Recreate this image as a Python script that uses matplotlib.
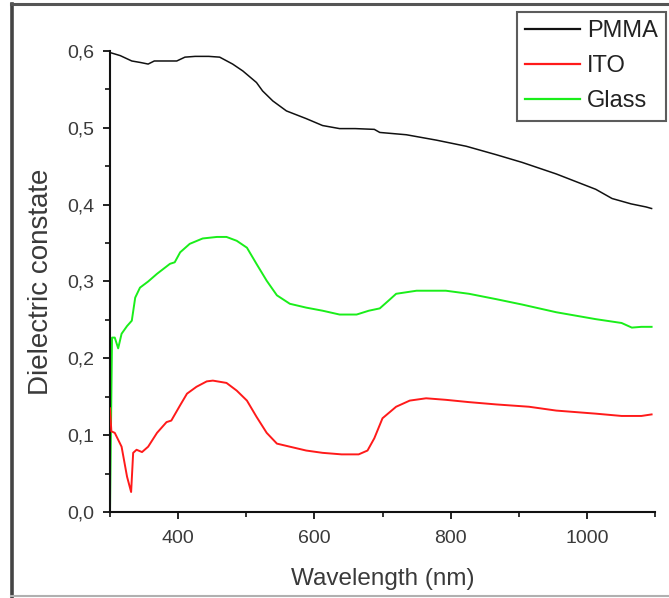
import matplotlib
matplotlib.use("Agg")
import matplotlib.pyplot as plt
from matplotlib.ticker import MultipleLocator, FuncFormatter
from matplotlib.lines import Line2D

plt.rcParams['font.family'] = ['Liberation Sans', 'DejaVu Sans']

# Dielectric constant spectra
pmma_wl = [300, 315, 332, 345, 356, 365, 380, 398, 410, 425, 445, 461, 480, 495,
           515, 524, 539, 559, 588, 612, 637, 660, 688, 696, 735, 779, 823, 867,
           905, 955, 1013, 1037, 1065, 1087, 1095]
pmma_eps = [0.598, 0.594, 0.587, 0.585, 0.583, 0.587, 0.587, 0.587, 0.592, 0.593,
            0.593, 0.592, 0.583, 0.574, 0.559, 0.548, 0.535, 0.522, 0.512, 0.503,
            0.499, 0.499, 0.498, 0.494, 0.491, 0.484, 0.476, 0.465, 0.455, 0.440,
            0.420, 0.408, 0.401, 0.397, 0.395]

ito_wl = [300, 302, 307, 317, 325, 331, 334, 339, 347, 356, 369, 383, 390, 403,
          413, 427, 442, 451, 471, 486, 501, 515, 530, 545, 564, 588, 612, 640,
          665, 678, 688, 700, 720, 740, 764, 793, 827, 867, 915, 955, 1013, 1051,
          1080, 1095]
ito_eps = [0.135, 0.105, 0.103, 0.085, 0.046, 0.026, 0.077, 0.081, 0.078, 0.085,
           0.103, 0.117, 0.119, 0.139, 0.154, 0.163, 0.170, 0.171, 0.168, 0.158,
           0.145, 0.124, 0.103, 0.089, 0.085, 0.080, 0.077, 0.075, 0.075, 0.080,
           0.096, 0.122, 0.137, 0.145, 0.148, 0.146, 0.143, 0.140, 0.137, 0.132,
           0.128, 0.125, 0.125, 0.127]

glass_wl = [300, 303, 307, 312, 317, 325, 332, 337, 344, 356, 369, 388, 395, 403,
            417, 436, 457, 471, 486, 501, 515, 530, 545, 564, 588, 612, 637, 662,
            680, 696, 710, 720, 750, 793, 827, 867, 905, 955, 1013, 1051, 1066,
            1080, 1095]
glass_eps = [0.0, 0.227, 0.227, 0.213, 0.232, 0.242, 0.249, 0.279, 0.292, 0.300,
             0.310, 0.323, 0.325, 0.338, 0.349, 0.356, 0.358, 0.358, 0.353, 0.344,
             0.323, 0.301, 0.282, 0.271, 0.266, 0.262, 0.257, 0.257, 0.262, 0.265,
             0.276, 0.284, 0.288, 0.288, 0.284, 0.277, 0.270, 0.260, 0.251, 0.246,
             0.240, 0.241, 0.241]

series_names = ['PMMA', 'ITO', 'Glass']
series_colors = ['#111111', '#ff1a1a', '#1aee1a']

W, H = 669, 598
fig = plt.figure(figsize=(W / 100, H / 100), dpi=100)
ax = fig.add_axes([110 / W, 1 - 512 / H, (655 - 110) / W, (512 - 51) / H])

ax.plot(glass_wl, glass_eps, color=series_colors[2], lw=1.4, zorder=2)
ax.plot(ito_wl, ito_eps, color=series_colors[1], lw=1.4, zorder=3)
ax.plot(pmma_wl, pmma_eps, color=series_colors[0], lw=1.1, zorder=4)

ax.set_xlim(300, 1100)
ax.set_ylim(0, 0.6)
for s in ('top', 'right'):
    ax.spines[s].set_visible(False)
for s in ('left', 'bottom'):
    ax.spines[s].set_linewidth(1.5)
    ax.spines[s].set_color('#111111')

ax.xaxis.set_minor_locator(MultipleLocator(100))
ax.yaxis.set_major_locator(MultipleLocator(0.1))
ax.yaxis.set_minor_locator(MultipleLocator(0.05))
ax.set_xticks([400, 600, 800, 1000])
ax.xaxis.set_major_formatter(FuncFormatter(lambda v, p: f'{v:.0f}'))
ax.yaxis.set_major_formatter(FuncFormatter(lambda v, p: f'{v:.1f}'.replace('.', ',')))

ax.tick_params(which='major', direction='out', length=5, width=1.3, color='#111111',
               labelsize=14, labelcolor='#3a3a3a', pad=6)
ax.tick_params(which='minor', direction='out', length=3.5, width=1.2, color='#111111')
ax.tick_params(axis='x', which='major', pad=8)

ax.set_xlabel('Wavelength (nm)', fontsize=17.5, color='#3a3a3a', labelpad=15)
ax.set_ylabel('Dielectric constate', fontsize=20, color='#3a3a3a', labelpad=10)

handles = [Line2D([], [], color=c, lw=1.6) for c in series_colors]
leg = fig.legend(handles, series_names, loc='upper right',
                 bbox_to_anchor=(666 / W, 1 - 12 / H), fontsize=17,
                 frameon=True, fancybox=False, edgecolor='#333333',
                 handlelength=2.3, handletextpad=0.3, labelspacing=0.55,
                 borderpad=0.35, borderaxespad=0)
leg.get_frame().set_linewidth(1.5)
for t in leg.get_texts():
    t.set_color('#222222')

# Outer frame of the figure
fig.add_artist(Line2D([11.5 / W, 11.5 / W], [0, 1 - 4 / H], transform=fig.transFigure,
                      color='#444444', lw=2.6))
fig.add_artist(Line2D([10.5 / W, 1], [1 - 4 / H, 1 - 4 / H], transform=fig.transFigure,
                      color='#555555', lw=2.2))
fig.add_artist(Line2D([10.5 / W, 1], [1 - 596 / H, 1 - 596 / H], transform=fig.transFigure,
                      color='#b0b0b0', lw=1.5))

fig.savefig('out.png', dpi=100)
